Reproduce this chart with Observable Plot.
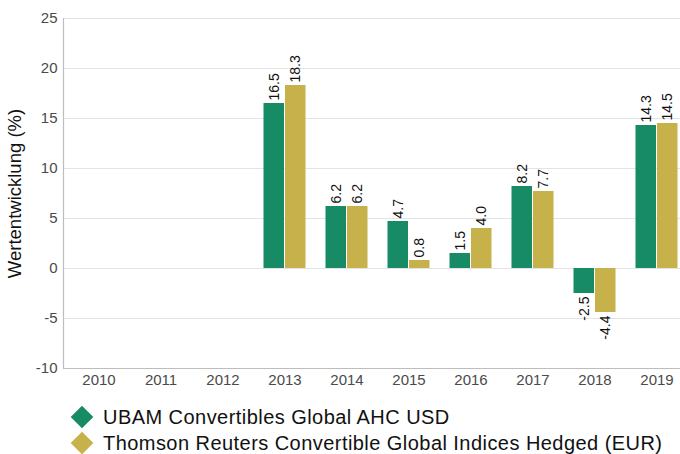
<!DOCTYPE html>
<html>
<head>
<meta charset="utf-8">
<script src="https://cdn.jsdelivr.net/npm/d3@7"></script>
<script src="https://cdn.jsdelivr.net/npm/@observablehq/plot@0.6"></script>
<style>
  html, body { margin: 0; padding: 0; background: #fff; }
  #wrap { position: relative; width: 680px; height: 454px; font-family: "Liberation Sans", Arial, sans-serif; }
  .leg { position: absolute; left: 0; height: 22px; width: 680px; white-space: nowrap; }
  .leg .sw { position: absolute; left: 74px; top: 3px; width: 16px; height: 16px; transform: rotate(45deg); }
  .leg .lab { position: absolute; left: 103px; top: 0; font-size: 20px; letter-spacing: 0.45px; color: #111; line-height: 22px; }
</style>
</head>
<body>
<div id="wrap"></div>
<script>
const years = ["2010", "2011", "2012", "2013", "2014", "2015", "2016", "2017", "2018", "2019"];
const seriesNames = ["UBAM Convertibles Global AHC USD", "Thomson Reuters Convertible Global Indices Hedged (EUR)"];
const ubamValues = [null, null, null, 16.5, 6.2, 4.7, 1.5, 8.2, -2.5, 14.3];
const thomsonValues = [null, null, null, 18.3, 6.2, 0.8, 4.0, 7.7, -4.4, 14.5];
const yTicks = [-10, -5, 0, 5, 10, 15, 20, 25];
const colors = ["#178a66", "#c6b14a"];
const yTitle = "Wertentwicklung (%)";

const toRows = (vals, s) => years.map((y, i) => ({year: y, series: s, value: vals[i]})).filter(d => d.value != null);
const ubamRows = toRows(ubamValues, seriesNames[0]);
const thomsonRows = toRows(thomsonValues, seriesNames[1]);

const half = 21.5;
const fmt = d => d.value.toFixed(1);

const chart = Plot.plot({
  width: 680,
  height: 396,
  marginTop: 18,
  marginBottom: 28,
  marginLeft: 63,
  marginRight: 0,
  style: {fontFamily: "'Liberation Sans', Arial, sans-serif", fontSize: "15px", background: "#fff", overflow: "visible"},
  x: {domain: years, range: [54.2, 699.8], padding: 0.313, label: null},
  y: {domain: [-10, 25], label: null},
  marks: [
    Plot.gridY(yTicks, {stroke: "#e3e3e3", strokeOpacity: 1}),
    Plot.ruleY([-10], {stroke: "#bdbdbd", strokeWidth: 1.2}),
    Plot.frame({anchor: "left", stroke: "#bdbdbd", strokeWidth: 1.2}),
    Plot.barY(ubamRows, {x: "year", y: "value", fill: colors[0], insetRight: half + 0.5, insetLeft: 0.5}),
    Plot.barY(thomsonRows, {x: "year", y: "value", fill: colors[1], insetLeft: half + 0.5, insetRight: 0.5}),
    Plot.text(ubamRows.filter(d => d.value >= 0), {x: "year", y: "value", text: fmt, rotate: -90, textAnchor: "start", dx: -half / 2, dy: -3, fontSize: 14, fill: "#111"}),
    Plot.text(ubamRows.filter(d => d.value < 0), {x: "year", y: "value", text: fmt, rotate: -90, textAnchor: "end", dx: -half / 2, dy: 3, fontSize: 14, fill: "#111"}),
    Plot.text(thomsonRows.filter(d => d.value >= 0), {x: "year", y: "value", text: fmt, rotate: -90, textAnchor: "start", dx: half / 2, dy: -3, fontSize: 14, fill: "#111"}),
    Plot.text(thomsonRows.filter(d => d.value < 0), {x: "year", y: "value", text: fmt, rotate: -90, textAnchor: "end", dx: half / 2, dy: 3, fontSize: 14, fill: "#111"}),
    Plot.axisY({ticks: yTicks, tickFormat: d => String(d), tickSize: 0, tickPadding: 6, fontSize: 15, color: "#4a4a4a", label: null}),
    Plot.axisX({tickSize: 0, tickPadding: 6, fontSize: 15, color: "#4a4a4a", label: null}),
    Plot.text([yTitle], {frameAnchor: "left", textAnchor: "middle", dx: -48, rotate: -90, fontSize: 18.5, fill: "#111"})
  ]
});

const wrap = document.getElementById("wrap");
wrap.appendChild(chart);
chart.style.position = "absolute";
chart.style.left = "0px";
chart.style.top = "0px";

seriesNames.forEach((name, i) => {
  const row = document.createElement("div");
  row.className = "leg";
  row.style.top = (406 + i * 26) + "px";
  const sw = document.createElement("div");
  sw.className = "sw";
  sw.style.background = colors[i];
  const lab = document.createElement("div");
  lab.className = "lab";
  lab.textContent = name;
  row.appendChild(sw);
  row.appendChild(lab);
  wrap.appendChild(row);
});
</script>
</body>
</html>
